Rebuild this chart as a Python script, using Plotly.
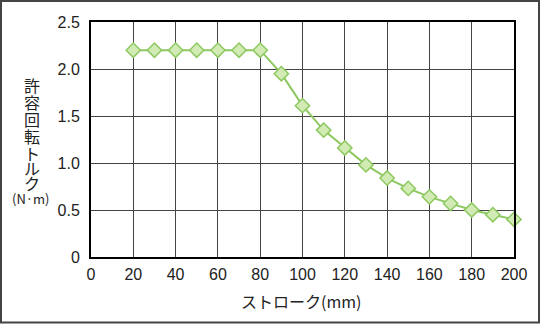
import plotly.graph_objects as go

stroke_mm = [20, 30, 40, 50, 60, 70, 80, 90, 100, 110, 120, 130, 140, 150, 160, 170, 180, 190, 200]
torque_nm = [2.2, 2.2, 2.2, 2.2, 2.2, 2.2, 2.2, 1.95, 1.61, 1.35, 1.16, 0.98, 0.84, 0.73, 0.64, 0.57, 0.50, 0.45, 0.40]

x_ticks = [0, 20, 40, 60, 80, 100, 120, 140, 160, 180, 200]
y_ticks = [0, 0.5, 1.0, 1.5, 2.0, 2.5]
y_tick_text = ["0", "0.5", "1.0", "1.5", "2.0", "2.5"]

y_title_chars = ["許", "容", "回", "転", "ト", "ル", "ク"]
y_title_unit = "(N·m)"
x_title = "ストローク(mm)"

W, H = 541, 324
L, R, T, B = 91, 27, 22, 67
pw, ph = W - L - R, H - T - B

font_family = "Liberation Sans, Arial, Noto Sans CJK JP, sans-serif"
cjk = "Noto Sans CJK JP, sans-serif"

fig = go.Figure()
fig.add_trace(go.Scatter(
    x=stroke_mm, y=torque_nm, mode="lines+markers",
    line=dict(color="#8dc860", width=2),
    marker=dict(symbol="diamond", size=11, color="#d2ebb4",
                line=dict(color="#8dc860", width=1.5)),
    showlegend=False, cliponaxis=False,
))

def px2paper_x(px):
    return (px - L) / pw

def px2paper_y(py):
    return (H - B - py) / ph

annotations = []
y_title_pix = [85, 102, 119, 136, 153, 168, 183]
for ch, yy in zip(y_title_chars, y_title_pix):
    annotations.append(dict(text=ch, x=px2paper_x(32), y=px2paper_y(yy), xref="paper", yref="paper",
                            showarrow=False, xanchor="center", yanchor="middle",
                            font=dict(family=cjk, size=16, color="#222")))
annotations.append(dict(text=y_title_unit, x=px2paper_x(31), y=px2paper_y(198), xref="paper", yref="paper",
                        showarrow=False, xanchor="center", yanchor="middle",
                        font=dict(family=cjk, size=13, color="#222")))
annotations.append(dict(text=x_title, x=px2paper_x(301), y=px2paper_y(301), xref="paper", yref="paper",
                        showarrow=False, xanchor="center", yanchor="middle",
                        font=dict(family=cjk, size=16, color="#222")))

fig.update_layout(
    width=W, height=H,
    margin=dict(l=L, r=R, t=T, b=B, pad=0),
    paper_bgcolor="white", plot_bgcolor="white",
    font=dict(family=font_family, size=16, color="#222"),
    annotations=annotations,
    shapes=[dict(type="rect", xref="paper", yref="paper",
                 x0=px2paper_x(1), x1=px2paper_x(539), y0=px2paper_y(1), y1=px2paper_y(322.5),
                 line=dict(color="#444", width=2), layer="below")],
    xaxis=dict(range=[0, 200], tickvals=x_ticks, ticktext=[str(v) for v in x_ticks],
               showgrid=True, gridcolor="#444", gridwidth=1,
               showline=True, linecolor="black", linewidth=2, mirror=True,
               ticks="", zeroline=False, ticklabelstandoff=2,
               tickfont=dict(size=16)),
    yaxis=dict(range=[0, 2.5], tickvals=y_ticks, ticktext=y_tick_text,
               showgrid=True, gridcolor="#444", gridwidth=1,
               showline=True, linecolor="black", linewidth=2, mirror=True,
               ticks="", zeroline=False, ticklabelstandoff=6,
               tickfont=dict(size=16)),
)

fig.write_html("out.html", config={"displayModeBar": False},
               post_script="document.body.style.margin='0';document.body.style.overflow='hidden';")
